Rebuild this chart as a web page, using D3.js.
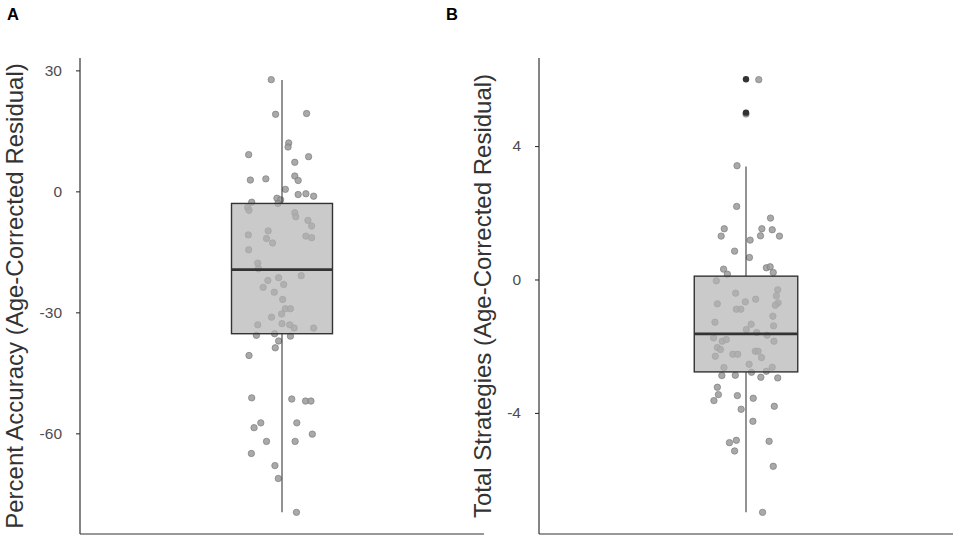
<!DOCTYPE html>
<html>
<head>
<meta charset="utf-8">
<script src="https://cdn.jsdelivr.net/npm/d3@7"></script>
<style>
  body { margin: 0; background: #fff; }
  svg { display: block; }
</style>
</head>
<body>
<svg id="chart" width="957" height="538"></svg>
<script>
// Panel A - percent accuracy residuals (value, horizontal jitter in category units)
const accuracyValues = [27.7, 19.1, 19.3, 12.0, 11.0, 9.1, 8.6, 7.2, 2.8, 3.1, 3.8, 2.7, 0.5, -0.8, -0.6, -1.2,
  -1.7, -2.1, -2.7, -3.0, -4.0, -4.7, -5.3, -6.3, -7.2, -8.6, -9.8, -10.8, -11.7, -12.8, -11.1, -11.5,
  -14.5, -17.8, -19.2, -20.9, -21.4, -22.1, -23.1, -23.8, -25.0, -26.8, -29.1, -29.1, -30.4, -31.2,
  -33.1, -32.8, -33.1, -33.9, -33.9, -35.7, -35.3, -35.9, -37.1, -38.8, -40.7, -51.2, -51.5, -52.0,
  -52.0, -57.4, -58.6, -57.4, -60.2, -62.0, -62.0, -65.0, -68.0, -71.2, -79.6]
const accuracyJitter = [-0.032, -0.019, 0.073, 0.020, 0.018, -0.099, 0.079, 0.038, -0.094, -0.048, 0.038, 0.048, 0.010, 0.048, 0.071, 0.094,
  -0.015, -0.004, -0.090, -0.012, -0.102, -0.098, 0.038, 0.041, 0.077, 0.088, -0.041, -0.100, -0.046, -0.028, 0.071, 0.088,
  -0.099, -0.072, -0.070, 0.057, -0.010, -0.042, 0.005, -0.056, -0.023, 0.002, 0.010, 0.025, -0.001, -0.031,
  -0.072, 0.000, 0.023, 0.036, 0.094, -0.076, -0.022, 0.025, -0.010, -0.020, -0.098, -0.090, 0.029, 0.070,
  0.086, -0.063, -0.083, 0.044, 0.090, -0.046, 0.039, -0.091, -0.021, -0.011, 0.043]
// [lower whisker, Q1, median, Q3, upper whisker]
const accuracyBox = [-79.6, -35.3, -19.4, -3.0, 27.6]
const accuracyOutliers = []
const accuracyTicks = [-60, -30, 0, 30]

// Panel B - total strategies residuals
const strategyValues = [5.99, 4.96, 3.41, 2.19, 1.84, 1.52, 1.52, 1.30, 1.49, 1.31, 1.30, 1.18, 0.85, 0.66, 0.31, 0.35,
  0.38, 0.16, 0.21, -0.04, -0.41, -0.59, -0.67, -0.73, -0.89, -0.89, -0.31, -0.49, -0.70, -0.77, -1.10, -1.28,
  -1.34, -1.39, -1.50, -1.59, -1.67, -1.75, -1.85, -1.80, -1.85, -2.04, -2.10, -2.15, -2.15, -2.24, -2.24,
  -2.30, -2.34, -2.54, -2.64, -2.63, -2.78, -2.75, -2.88, -2.87, -2.93, -2.95, -3.23, -3.45, -3.63, -3.48,
  -3.56, -3.89, -3.80, -4.25, -4.89, -4.82, -5.14, -4.85, -5.60, -6.98]
const strategyJitter = [0.037, 0.000, -0.026, -0.027, 0.071, -0.063, 0.046, -0.072, 0.076, 0.042, 0.097, 0.012, -0.033, 0.010, -0.065, 0.059,
  0.070, -0.054, 0.079, -0.086, -0.030, 0.028, -0.002, -0.083, -0.028, -0.015, 0.092, 0.088, 0.093, 0.085, 0.078, -0.090,
  0.015, 0.080, 0.001, 0.031, 0.061, -0.094, -0.069, -0.057, 0.081, -0.083, -0.074, 0.027, 0.035, -0.038, -0.024,
  -0.089, 0.045, 0.009, -0.064, 0.076, 0.016, 0.059, -0.070, -0.031, 0.043, 0.092, -0.083, -0.080, -0.093, -0.025,
  0.021, -0.014, 0.082, 0.020, -0.048, -0.028, -0.033, 0.067, 0.079, 0.048]
const strategyBox = [-6.98, -2.77, -1.63, 0.10, 3.39]
const strategyOutliers = [6.0, 5.0]
const strategyTicks = [-4, 0, 4]

const svg = d3.select('#chart')
const plotTop = 58
const plotBottom = 534
const boxWidth = 0.3
const font = 'Liberation Sans, Arial, sans-serif'

const drawPanel = (opts) => {
  const { left, right, values, jitter, box, outliers, ticks, title, label, labelX, titleX } = opts

  // ggplot style: 5% padding around the data range
  const lo = d3.min(values.concat(box))
  const hi = d3.max(values.concat(box))
  const pad = (hi - lo) * 0.05
  const y = d3.scaleLinear().domain([lo - pad, hi + pad]).range([plotBottom, plotTop])
  const x = d3.scaleLinear().domain([0.4, 1.6]).range([left, right])

  const g = svg.append('g')

  // jittered points (under the box)
  g.selectAll('.pt')
    .data(values)
    .enter()
    .append('circle')
    .attr('class', 'pt')
    .attr('cx', (d, i) => x(1 + jitter[i]))
    .attr('cy', d => y(d))
    .attr('r', 3.2)
    .attr('fill', '#9a9a9a')
    .attr('fill-opacity', 0.85)
    .attr('stroke', '#7c7c7c')
    .attr('stroke-width', 0.7)

  // whiskers
  g.append('line')
    .attr('x1', x(1)).attr('x2', x(1))
    .attr('y1', y(box[0])).attr('y2', y(box[1]))
    .attr('stroke', '#3a3a3a').attr('stroke-width', 1.1)
  g.append('line')
    .attr('x1', x(1)).attr('x2', x(1))
    .attr('y1', y(box[3])).attr('y2', y(box[4]))
    .attr('stroke', '#3a3a3a').attr('stroke-width', 1.1)

  // box
  g.append('rect')
    .attr('x', x(1 - boxWidth / 2))
    .attr('width', x(1 + boxWidth / 2) - x(1 - boxWidth / 2))
    .attr('y', y(box[3]))
    .attr('height', y(box[1]) - y(box[3]))
    .attr('fill', '#b3b3b3')
    .attr('fill-opacity', 0.7)
    .attr('stroke', '#333')
    .attr('stroke-width', 1.4)

  // median
  g.append('line')
    .attr('x1', x(1 - boxWidth / 2)).attr('x2', x(1 + boxWidth / 2))
    .attr('y1', y(box[2])).attr('y2', y(box[2]))
    .attr('stroke', '#333').attr('stroke-width', 2.8)

  // outliers
  g.selectAll('.out')
    .data(outliers)
    .enter()
    .append('circle')
    .attr('class', 'out')
    .attr('cx', x(1))
    .attr('cy', d => y(d))
    .attr('r', 3.2)
    .attr('fill', '#333')

  // axes
  const yAxis = g.append('g')
    .attr('transform', `translate(${left},0)`)
    .call(d3.axisLeft(y).tickValues(ticks).tickFormat(d => String(d)).tickSize(4).tickPadding(14).tickSizeOuter(0))
  yAxis.select('.domain').remove()
  yAxis.selectAll('.tick line').attr('stroke', '#333').attr('stroke-width', 1.1)
  yAxis.selectAll('.tick text')
    .attr('fill', '#4d4d4d')
    .attr('font-family', font)
    .attr('font-size', '15.5px')

  g.append('line')
    .attr('x1', left).attr('x2', left)
    .attr('y1', plotTop).attr('y2', plotBottom)
    .attr('stroke', '#333').attr('stroke-width', 1.2)
  g.append('line')
    .attr('x1', left).attr('x2', right)
    .attr('y1', plotBottom).attr('y2', plotBottom)
    .attr('stroke', '#333').attr('stroke-width', 1.2)

  // y title
  g.append('text')
    .attr('transform', `translate(${titleX},${(plotTop + plotBottom) / 2}) rotate(-90)`)
    .attr('text-anchor', 'middle')
    .attr('font-family', font)
    .attr('font-size', '24px')
    .attr('fill', '#333')
    .text(title)

  // panel letter
  svg.append('text')
    .attr('x', labelX)
    .attr('y', 20)
    .attr('font-family', font)
    .attr('font-weight', 'bold')
    .attr('font-size', '16.5px')
    .attr('fill', '#000')
    .text(label)
}

drawPanel({
  left: 80, right: 484,
  values: accuracyValues, jitter: accuracyJitter, box: accuracyBox, outliers: accuracyOutliers,
  ticks: accuracyTicks,
  title: 'Percent Accuracy (Age-Corrected Residual)',
  label: 'A', labelX: 7, titleX: 23,
})

drawPanel({
  left: 539, right: 953,
  values: strategyValues, jitter: strategyJitter, box: strategyBox, outliers: strategyOutliers,
  ticks: strategyTicks,
  title: 'Total Strategies (Age-Corrected Residual)',
  label: 'B', labelX: 446, titleX: 491,
})
</script>
</body>
</html>
